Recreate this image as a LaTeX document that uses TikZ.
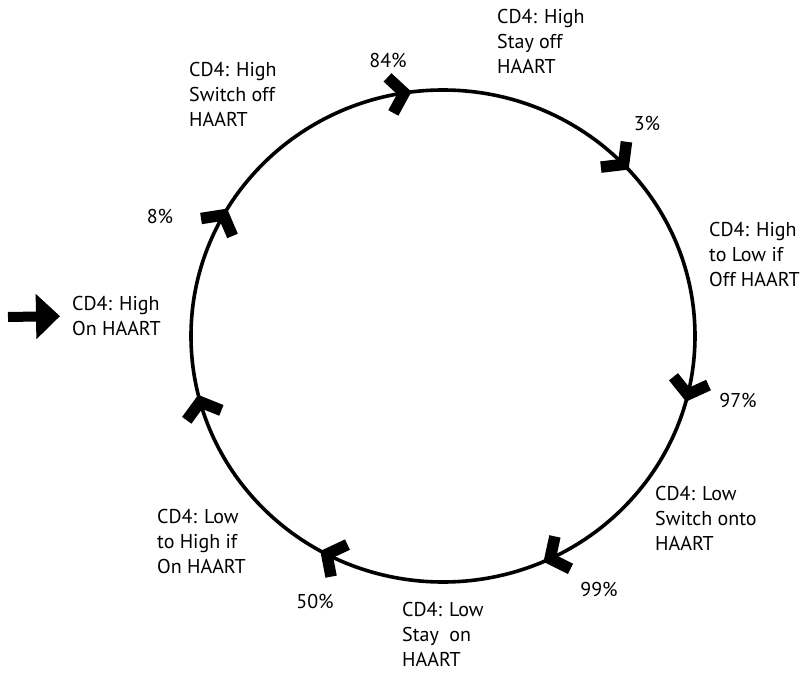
\documentclass[tikz,border=0pt]{standalone}
\usepackage{fontspec}
\setmainfont{PT Sans}
\usetikzlibrary{arrows.meta}
\tikzset{
  lbl/.style={anchor=north west, inner sep=0pt, align=left, font=\fontsize{20}{25}\selectfont},
  pct/.style={anchor=center, inner sep=0pt, font=\fontsize{20}{25}\selectfont},
  ring/.style={line width=3.6pt},
  chev/.pic={\draw[line width=11.5pt, line join=miter, miter limit=10, line cap=butt] (-12,18) -- (2,0) -- (-12,-18);},
  bigarrow/.style={line width=10pt, -{Triangle[width=44pt, length=24pt]}}
}
\begin{document}
\begin{tikzpicture}[x=1pt,y=1pt]
\useasboundingbox (-443,-336) rectangle (360,336);
\draw[ring] (0,0) ellipse [x radius=252, y radius=246];
\foreach \a in {99.3,44.7,-13.3,-64.4,-117,-164,151}{
  \pic[rotate=\a-90] at (\a:252 and 246) {chev};
}
\node[lbl] (n1) at (54,327) {CD4: High\\Stay off\\HAART};
\node[lbl] (n3) at (-254,274) {CD4: High\\Switch off\\HAART};
\node[lbl] (n5) at (266,114) {CD4: High\\to Low if\\Off HAART};
\node[lbl] (n7) at (212,-150) {CD4: Low\\Switch onto\\HAART};
\node[lbl] (n9) at (-41,-266) {CD4: Low\\Stay\ \ on\\HAART};
\node[lbl] (n11) at (-286,-173) {CD4: Low\\to High if\\On HAART};
\node[lbl] (n13) at (-371,40) {CD4: High\\On HAART};
\node[pct] (p84) at (-55,276) {84\%};
\node[pct] (p3) at (204,213) {3\%};
\node[pct] (p97) at (295,-64) {97\%};
\node[pct] (p99) at (156,-253) {99\%};
\node[pct] (p8) at (-283,120) {8\%};
\node[pct] (p50) at (-128,-265) {50\%};
\coordinate (start) at (-435,19);
\draw[bigarrow] (start) -- (n13.west) [shorten >=12pt];
\end{tikzpicture}
\end{document}
